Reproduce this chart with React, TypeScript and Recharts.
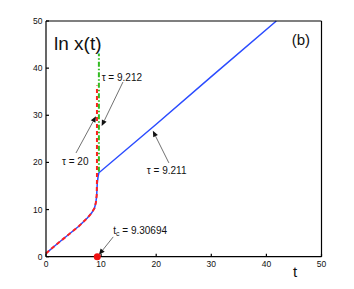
import React from 'react';
import {
  ComposedChart,
  Line,
  Scatter,
  XAxis,
  YAxis,
  ReferenceLine,
  ReferenceDot,
} from 'recharts';

// tau = 9.211 (blue, solid)
const blueT = [0, 2, 4, 6, 7.5, 8.3, 8.8, 9.05, 9.2, 9.3, 9.45, 9.6, 20, 30, 41.8];
const blueY = [0.7, 2.7, 4.6, 6.5, 8.2, 9.3, 10.3, 11.5, 13, 15.5, 17, 17.8, 28.1, 38.2, 50];
// tau = 20 (red, dashed)
const redT = [0, 2, 4, 6, 7.5, 8.3, 8.8, 9.05, 9.2, 9.25, 9.25];
const redY = [0.7, 2.7, 4.6, 6.5, 8.2, 9.3, 10.3, 11.5, 13, 16, 36.3];
// tau = 9.212 (green, dash-dot)
const greenT = [9.6, 9.6];
const greenY = [18, 43.1];
// critical time
const tcT = [9.30694];
const tcY = [0];

const ticks = [0, 10, 20, 30, 40, 50];

const blueData = blueT.map((t, i) => ({ t, y: blueY[i] }));
const redData = redT.map((t, i) => ({ t, y: redY[i] }));
const greenData = greenT.map((t, i) => ({ t, y: greenY[i] }));
const tcData = tcT.map((t, i) => ({ t, y: tcY[i] }));

const font = 'Liberation Sans, Arial, sans-serif';

const Arrow = (props: any) => {
  const { x1, y1, x2, y2 } = props;
  const a = Math.atan2(y2 - y1, x2 - x1);
  const L = 6;
  const w = 2.6;
  const bx = x2 - L * Math.cos(a);
  const by = y2 - L * Math.sin(a);
  const px = -Math.sin(a) * w;
  const py = Math.cos(a) * w;
  return (
    <g>
      <line x1={x1} y1={y1} x2={bx} y2={by} stroke="#333" strokeWidth={0.7} />
      <polygon
        points={`${x2},${y2} ${bx + px},${by + py} ${bx - px},${by - py}`}
        fill="#111"
      />
    </g>
  );
};

const label = (content: React.ReactNode, size = 10, anchor = 'start') => (p: any) => (
  <text
    x={p.cx}
    y={p.cy}
    fontSize={size}
    fontFamily={font}
    fill="#111"
    textAnchor={anchor}
    dominantBaseline="central"
  >
    {content}
  </text>
);

export default function App() {
  return (
    <div style={{ position: 'absolute', left: 0, top: 0, background: '#fff' }}>
      <ComposedChart
        width={354}
        height={289}
        margin={{ top: 20, right: 31.5, bottom: 12.3, left: 16 }}
      >
        <XAxis
          xAxisId={0}
          dataKey="t"
          type="number"
          domain={[0, 50]}
          ticks={ticks}
          height={20}
          tickSize={-3}
          tickMargin={7.5}
          stroke="#000"
          strokeWidth={1.2}
          tick={{ fontSize: 8.5, fontFamily: font, fill: '#111' }}
        />
        <XAxis
          xAxisId="top"
          orientation="top"
          type="number"
          domain={[0, 50]}
          ticks={ticks}
          height={1}
          tickSize={-3}
          tick={false}
          stroke="#000"
          strokeWidth={1.2}
        />
        <YAxis
          yAxisId={0}
          type="number"
          domain={[0, 50]}
          ticks={ticks}
          width={30}
          tickSize={-3}
          tickMargin={6.5}
          stroke="#000"
          strokeWidth={1.2}
          tick={{ fontSize: 8.5, fontFamily: font, fill: '#111' }}
        />
        <YAxis
          yAxisId="right"
          orientation="right"
          type="number"
          domain={[0, 50]}
          ticks={ticks}
          width={1}
          tickSize={-3}
          tick={false}
          stroke="#000"
          strokeWidth={1.2}
        />
        <Line
          data={blueData}
          dataKey="y"
          type="linear"
          stroke="#2b4cff"
          strokeWidth={1.5}
          dot={false}
          activeDot={false}
          isAnimationActive={false}
        />
        <Line
          data={redData}
          dataKey="y"
          type="linear"
          stroke="#ff2020"
          strokeWidth={2}
          strokeDasharray="4 3"
          dot={false}
          activeDot={false}
          isAnimationActive={false}
        />
        <Line
          data={greenData}
          dataKey="y"
          type="linear"
          stroke="#33bb22"
          strokeWidth={2}
          strokeDasharray="5 2 1.5 2"
          dot={false}
          activeDot={false}
          isAnimationActive={false}
        />
        <Scatter
          data={tcData}
          dataKey="y"
          fill="#ee1111"
          isAnimationActive={false}
          shape={(p: any) => <circle cx={p.cx} cy={p.cy} r={3.5} fill="#ee1111" />}
        />

        <ReferenceLine segment={[{ x: 13.97, y: 37.06 }, { x: 10.1, y: 27.7 }]} shape={Arrow} />
        <ReferenceLine segment={[{ x: 5.44, y: 22.0 }, { x: 9.07, y: 29.8 }]} shape={Arrow} />
        <ReferenceLine segment={[{ x: 22.3, y: 19.9 }, { x: 19.4, y: 26.7 }]} shape={Arrow} />
        <ReferenceLine segment={[{ x: 12.2, y: 4.2 }, { x: 9.6, y: 0.4 }]} shape={Arrow} />

        <ReferenceDot x={10.1} y={38.1} r={0} shape={label('\u03c4 = 9.212')} />
        <ReferenceDot x={2.9} y={20.3} r={0} shape={label('\u03c4 = 20')} />
        <ReferenceDot x={18.3} y={18.2} r={0} shape={label('\u03c4 = 9.211')} />
        <ReferenceDot
          x={12.2}
          y={5.7}
          r={0}
          shape={label(
            <>
              <tspan>t</tspan>
              <tspan dy={3} fontSize={7}>c</tspan>
              <tspan dy={-3}> = 9.30694</tspan>
            </>
          )}
        />
        <ReferenceDot x={1.45} y={45.3} r={0} shape={label('ln x(t)', 19)} />
        <ReferenceDot x={44.6} y={46.0} r={0} shape={label('(b)', 15)} />
        <ReferenceDot
          x={45.2}
          y={-3.1}
          r={0}
          ifOverflow="visible"
          shape={label('t', 15, 'middle')}
        />
      </ComposedChart>
    </div>
  );
}
